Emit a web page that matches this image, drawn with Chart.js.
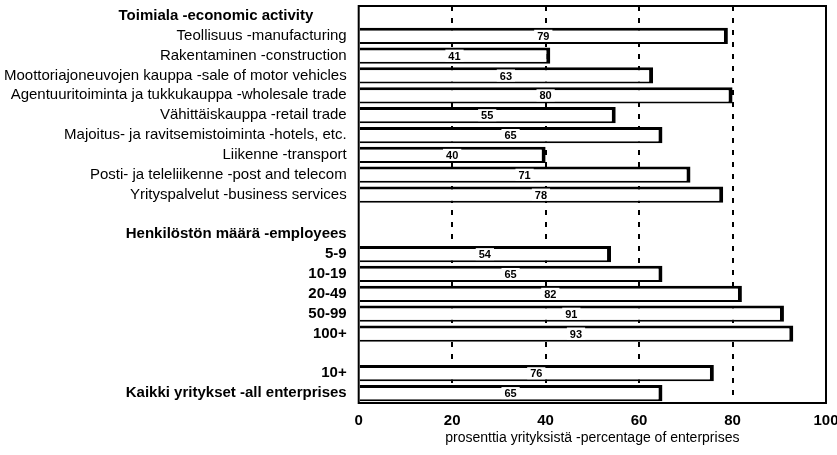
<!DOCTYPE html>
<html>
<head>
<meta charset="utf-8">
<script src="https://cdn.jsdelivr.net/npm/chart.js@4/dist/chart.umd.min.js"></script>
<style>
  html, body { margin: 0; padding: 0; background: #fff; }
  #wrap { width: 837px; height: 455px; }
</style>
</head>
<body>
<div id="wrap"><canvas id="myChart" width="837" height="455"></canvas></div>
<script>
'use strict';
// rows from top to bottom, '' = empty row
let categories = [
  'Toimiala -economic activity',
  'Teollisuus -manufacturing',
  'Rakentaminen -construction',
  'Moottoriajoneuvojen kauppa -sale of motor vehicles',
  'Agentuuritoiminta ja tukkukauppa -wholesale trade',
  'Vähittäiskauppa -retail trade',
  'Majoitus- ja ravitsemistoiminta -hotels, etc.',
  'Liikenne -transport',
  'Posti- ja teleliikenne -post and telecom',
  'Yrityspalvelut -business services',
  '',
  'Henkilöstön määrä -employees',
  '5-9',
  '10-19',
  '20-49',
  '50-99',
  '100+',
  '',
  '10+',
  'Kaikki yritykset -all enterprises'
];
let values = [null, 79, 41, 63, 80, 55, 65, 40, 71, 78, null, null, 54, 65, 82, 91, 93, null, 76, 65];
let boldRows = [0, 11, 12, 13, 14, 15, 16, 18, 19];
let xTicks = [0, 20, 40, 60, 80, 100];
let xTitle = 'prosenttia yrityksistä -percentage of enterprises';

let fam = '"Liberation Sans", Arial, Helvetica, sans-serif';

// header of first group sits a bit left of the others
let shownLabels = categories.map(function (c, i) {
  if (i === 0) return c + '        ';
  return c;
});

let frame = {
  id: 'frame',
  afterDraw(chart) {
    let a = chart.chartArea;
    let ctx = chart.ctx;
    ctx.save();
    ctx.strokeStyle = '#000';
    ctx.lineWidth = 2;
    ctx.strokeRect(a.left, a.top, a.right - a.left, a.bottom - a.top);
    ctx.restore();
  }
};

let midLabels = {
  id: 'midLabels',
  afterDatasetsDraw(chart) {
    let ctx = chart.ctx;
    let xs = chart.scales.x;
    let meta = chart.getDatasetMeta(0);
    ctx.save();
    ctx.font = 'bold 11px ' + fam;
    ctx.textAlign = 'center';
    ctx.textBaseline = 'middle';
    meta.data.forEach(function (bar, i) {
      let v = values[i];
      if (v === null) return;
      let x = xs.getPixelForValue(v / 2);
      let y = bar.y;
      let w = ctx.measureText(String(v)).width + 6;
      ctx.fillStyle = '#fff';
      ctx.fillRect(x - w / 2, y - 6, w, 12);
      ctx.fillStyle = '#000';
      ctx.fillText(String(v), x, y + 1);
    });
    ctx.restore();
  }
};

let ctx = document.getElementById('myChart').getContext('2d');
let myChart = new Chart(ctx, {
  type: 'bar',
  data: {
    labels: shownLabels,
    datasets: [{
      data: values,
      backgroundColor: '#fff',
      borderColor: '#000',
      borderWidth: { top: 3, right: 4, bottom: 2, left: 0 },
      borderSkipped: false,
      barPercentage: 0.82,
      categoryPercentage: 1
    }]
  },
  options: {
    indexAxis: 'y',
    responsive: false,
    animation: false,
    layout: { padding: { top: 6, left: 4, right: 0, bottom: 0 } },
    plugins: {
      legend: { display: false },
      tooltip: { enabled: false }
    },
    scales: {
      x: {
        min: 0,
        max: 100,
        afterBuildTicks: function (scale) {
          scale.ticks = xTicks.map(function (v) { return { value: v }; });
        },
        afterFit: function (scale) {
          scale.height = 52;
          scale.paddingLeft = 0;
          scale.paddingRight = 11;
        },
        grid: {
          color: function (c) {
            return (c.tick && c.tick.value > 0 && c.tick.value < 100) ? '#000' : 'rgba(0,0,0,0)';
          },
          lineWidth: 2,
          drawTicks: false
        },
        border: { display: false, dash: [5, 7] },
        ticks: {
          color: '#000',
          padding: 9,
          font: { family: fam, size: 15, weight: 'bold' }
        },
        title: {
          display: true,
          text: xTitle,
          color: '#000',
          padding: { top: 0, bottom: 8 },
          font: { family: fam, size: 14 }
        }
      },
      y: {
        grid: { display: false, drawTicks: false },
        border: { display: false },
        afterFit: function (scale) {
          scale.width = scale.width - 12;
          scale.paddingTop = 0;
          scale.paddingBottom = 0;
        },
        ticks: {
          color: '#000',
          padding: 12,
          autoSkip: false,
          font: function (c) {
            let b = boldRows.indexOf(c.index) >= 0;
            return { family: fam, size: 15, weight: b ? 'bold' : 'normal' };
          }
        }
      }
    }
  },
  plugins: [frame, midLabels]
});
</script>
</body>
</html>
